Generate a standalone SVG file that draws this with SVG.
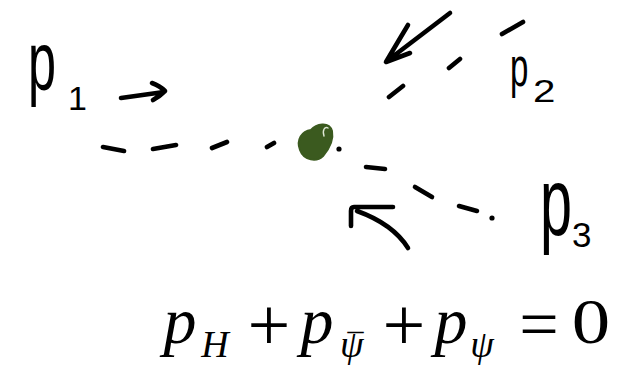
<svg xmlns="http://www.w3.org/2000/svg" width="621" height="365" viewBox="0 0 621 365">
<style>
.ink{fill:none;stroke:#000;stroke-width:4.6;stroke-linecap:round;stroke-linejoin:round}
.dot{fill:#000}
.hw{font-family:"Liberation Sans","DejaVu Sans",sans-serif;fill:#000}
.m{font-family:"Liberation Serif","DejaVu Serif",serif;fill:#000}
.it{font-style:italic}
</style>
<rect width="621" height="365" fill="#fff"/>
<g id="connectors">
  <path class="ink" d="M103,147 L124,151 M153,149 L176,145 M212,148 L227,142 M267,147 L274,143"/>
  <path class="ink" d="M121,98 L164,92 M152,83 Q160,86 165,91 Q160,96 153,100"/>
  <path class="ink" d="M523,22 L502,34 M460,59 L449,68 M403,86 L389,97"/>
  <path class="ink" d="M450,13 L387,61 M408,25 Q396,45 386,62 L410,53"/>
  <circle class="dot" cx="339" cy="149" r="2.6"/>
  <path class="ink" d="M366,167 L385,169 M415,187 L432,197 M459,206 L477,211"/>
  <circle class="dot" cx="492" cy="218" r="2.6"/>
  <path class="ink" d="M408,248 Q393,224 357,211 M393,207 L354,207 Q351,207 351,211 L351,226"/>
</g>
<g id="vertex">
  <path d="M300,150 C296,140 302,131 311,130 C316,124 329,121 332,131 C334,141 329,149 323,156 C317,162 304,161 300,150 Z" fill="#3b5a1f" stroke="#3b5a1f" stroke-width="2" stroke-linejoin="round"/>
  <path d="M324,136 C322,130 325,126 328,128" fill="none" stroke="#dfe8d6" stroke-width="1.4" stroke-linecap="round"/>
</g>
<g id="label-p1">
  <text class="hw" transform="translate(28,90) scale(0.6,1)" font-size="84">p</text>
  <text class="hw" x="68" y="110" font-size="34">1</text>
</g>
<g id="label-p2">
  <text class="hw" transform="translate(510,86) scale(0.6,1)" font-size="55">p</text>
  <text class="hw" transform="translate(533,102) scale(1.3,1)" font-size="31">2</text>
</g>
<g id="label-p3">
  <text class="hw" transform="translate(540,235) scale(0.6,1)" font-size="96">p</text>
  <text class="hw" x="572" y="247" font-size="35">3</text>
</g>
<g id="equation">
  <text class="m it" x="180" y="343" font-size="66" text-anchor="middle">p</text>
  <text class="m it" x="215" y="357" font-size="38" text-anchor="middle">H</text>
  <text class="m" x="269" y="350" font-size="76" text-anchor="middle">+</text>
  <text class="m it" x="317" y="343" font-size="66" text-anchor="middle">p</text>
  <text class="m it" x="340" y="357" font-size="38">ψ<tspan font-style="normal" font-size="32" dx="-16" dy="-1">¯</tspan></text>
  <text class="m" x="404" y="350" font-size="76" text-anchor="middle">+</text>
  <text class="m it" x="451" y="343" font-size="66" text-anchor="middle">p</text>
  <text class="m it" x="482" y="357" font-size="38" text-anchor="middle">ψ</text>
  <text class="m" x="539" y="348" font-size="70" text-anchor="middle">=</text>
  <text class="m" transform="translate(591,343) scale(1.2,1)" font-size="64" text-anchor="middle">0</text>
</g>
</svg>
